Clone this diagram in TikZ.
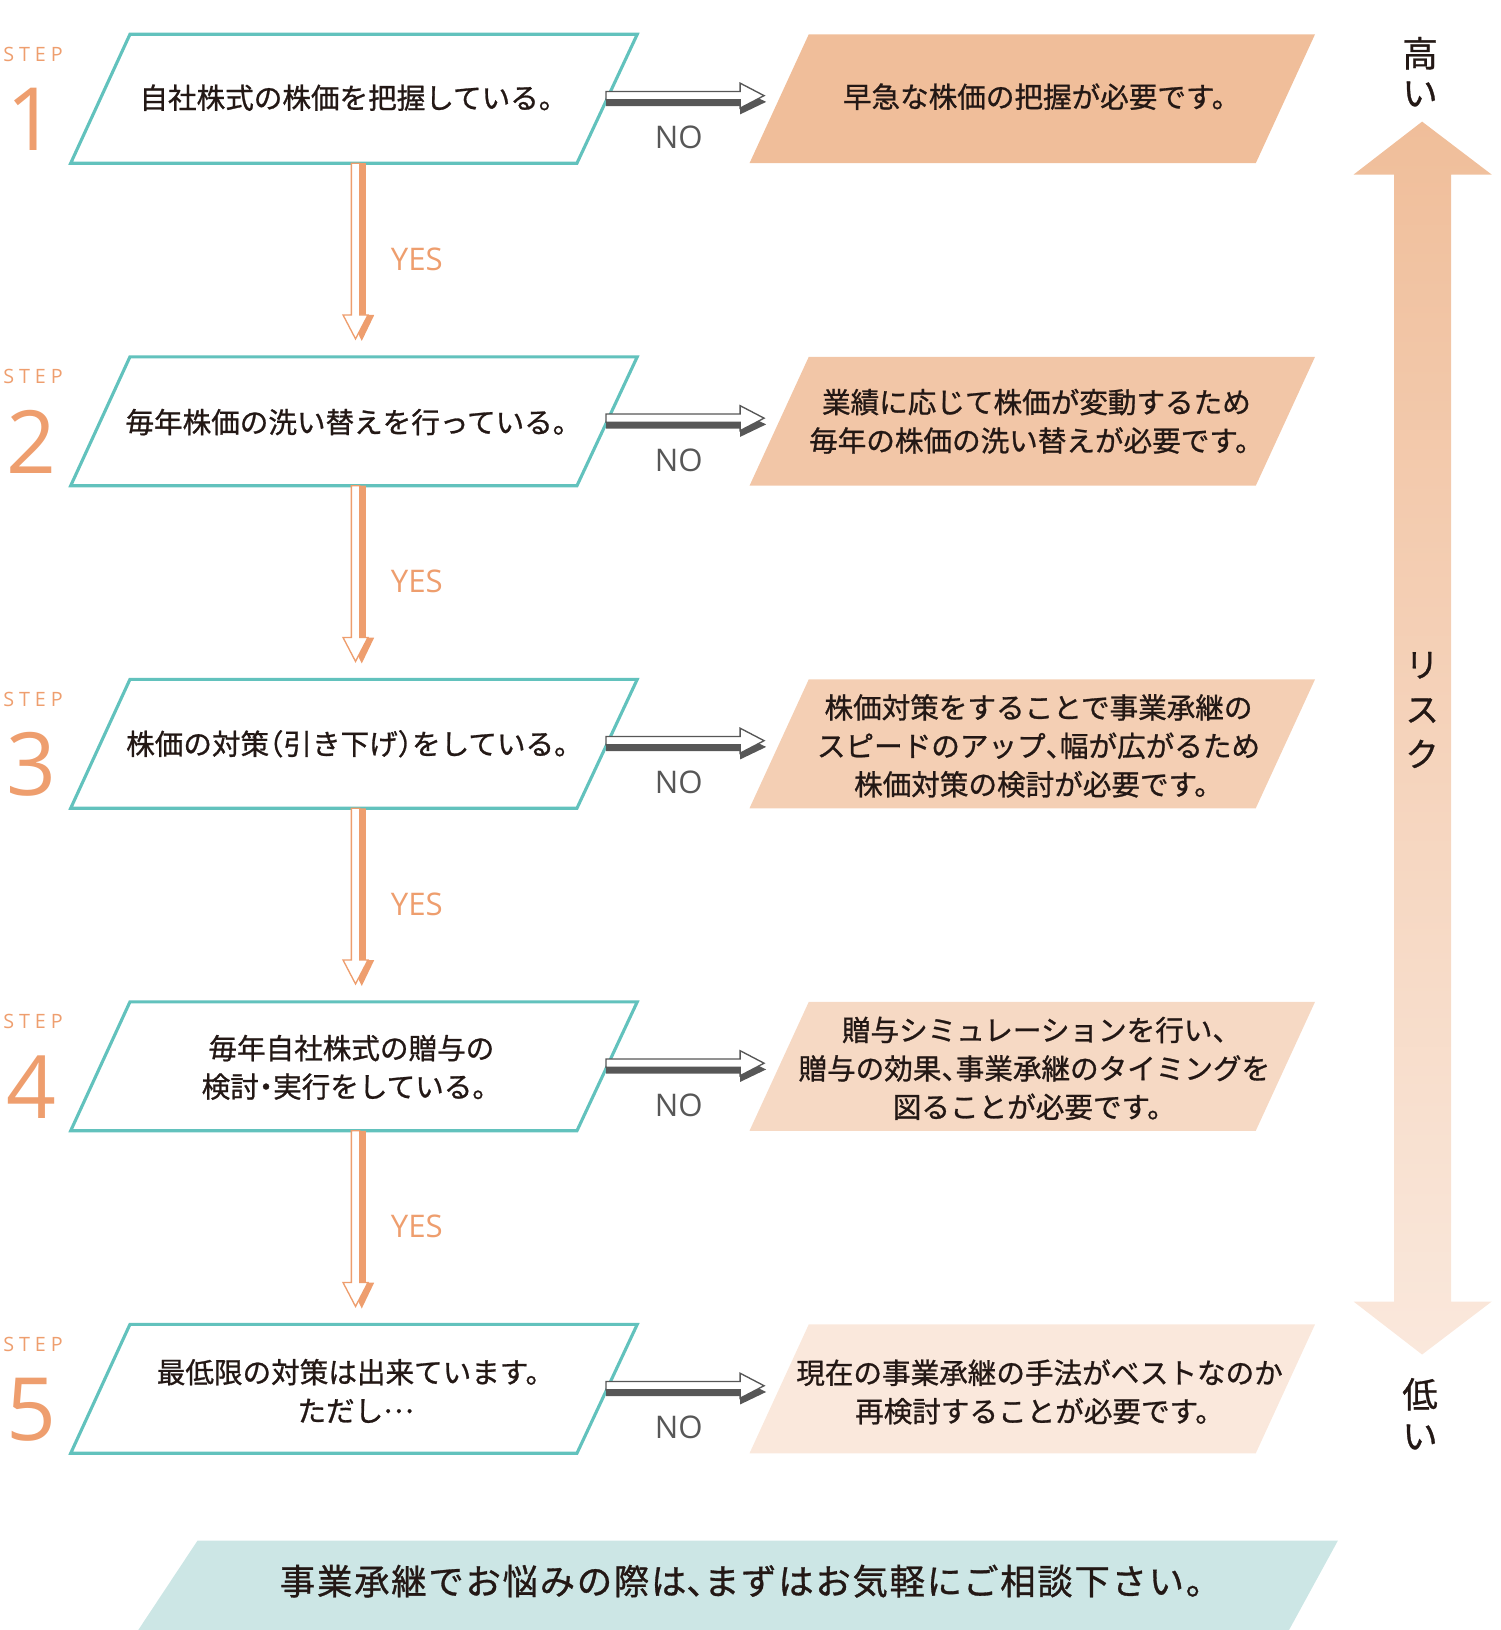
\documentclass[tikz,border=0pt]{standalone}
\usepackage{fontspec}
\setmainfont{Noto Sans CJK JP}[FakeBold=0.9]
\newfontfamily\latfont{Open Sans}
\newfontfamily\stepfont{Open Sans}[LetterSpace=25]
\newcommand\hc{{\addfontfeature{RawFeature=+halt}、}}
\newcommand\hd{{\addfontfeature{RawFeature=+halt}・}}
\newcommand\hpl{{\addfontfeature{RawFeature=+halt}（}}
\newcommand\hpr{{\addfontfeature{RawFeature=+halt}）}}
\newcommand\fel{\raisebox{0.3em}{…}}
\definecolor{tealline}{HTML}{62C2BD}
\definecolor{orng}{HTML}{EE9E6E}
\definecolor{nodark}{HTML}{575757}
\definecolor{txt}{HTML}{231815}
\definecolor{boxa}{HTML}{F0BE9A}
\definecolor{boxb}{HTML}{F2C6A7}
\definecolor{boxc}{HTML}{F4CFB4}
\definecolor{boxd}{HTML}{F6D9C4}
\definecolor{boxe}{HTML}{FAE8DC}
\definecolor{banner}{HTML}{CCE6E5}
\tikzset{
  jtext/.style={text=txt, align=center, inner sep=0pt, font=\fontsize{27.5}{37}\selectfont},
  steplabel/.style={text=orng, anchor=base west, inner sep=0pt, font=\stepfont\fontsize{19}{19}\selectfont},
  stepnum/.style={text=orng, anchor=base, inner sep=0pt, font=\latfont\fontsize{84}{84}\selectfont},
  yeslabel/.style={text=orng, anchor=base, inner sep=0pt, font=\latfont\fontsize{30}{30}\selectfont},
  nolabel/.style={text=nodark, anchor=base, inner sep=0pt, font=\latfont\fontsize{30}{30}\selectfont},
  vlabel/.style={text=txt, align=center, inner sep=0pt},
  noarr/.pic={
    \fill[nodark] (0,-2) -- (129,-2) -- (129,-10) -- (154,2) -- (129,14) -- (129,6) -- (0,6) -- cycle;
    \filldraw[fill=white, draw=nodark, line width=1.3pt] (0,-8) -- (129,-8) -- (129,-16) -- (152,-4) -- (129,8) -- (129,0) -- (0,0) -- cycle;
  },
  yesarr/.pic={
    \fill[orng] (-2,0) -- (-2,146) -- (-10,146) -- (2,171) -- (14,146) -- (6,146) -- (6,0) -- cycle;
    \filldraw[fill=white, draw=orng, line width=1.3pt] (-8,0) -- (-8,146) -- (-16,146) -- (-4,169) -- (8,146) -- (0,146) -- (0,0) -- cycle;
  }
}
\begin{document}
\begin{tikzpicture}[x=1pt,y=-1pt]
\useasboundingbox (0,0) rectangle (1443,1568);

% right-side risk arrow
\shade[top color=boxa, bottom color=boxe]
  (1368,117) -- (1435,168) -- (1396,168) -- (1396,1252) -- (1435,1252) -- (1368,1303)
  -- (1302,1252) -- (1341,1252) -- (1341,168) -- (1302,168) -- cycle;
\node[vlabel, font=\fontsize{34}{38}\selectfont] (high) at (1366,69) {高\\い};
\node[vlabel, font=\fontsize{32}{43}\selectfont] (risk) at (1368,683) {リ\\ス\\ク};
\node[vlabel, font=\fontsize{34}{40}\selectfont] (low) at (1366,1360) {低\\い};

% boxes, arrows and labels per step
\foreach \i/\fc in {0/boxa,1/boxb,2/boxc,3/boxd,4/boxe} {
  \pgfmathsetmacro\t{33+310.25*\i}
  \fill[\fc] (778,\t) -- (1265,\t) -- (1208,\t+124) -- (721,\t+124) -- cycle;
  \draw[tealline, line width=3pt] (125,\t) -- (613,\t) -- (555,\t+124) -- (68,\t+124) -- cycle;
  \pic at (583,\t+63) {noarr};
  \node[nolabel] (no\i) at (653,\t+110) {NO};
  \node[steplabel] (stp\i) at (3,\t+26) {STEP};
  \pgfmathtruncatemacro\n{\i+1}
  \node[stepnum] (num\i) at (30,\t+112) {\n};
}
\foreach \i in {0,1,2,3} {
  \pgfmathsetmacro\t{33+310.25*\i}
  \pic at (346,\t+124) {yesarr};
  \node[yeslabel] (yes\i) at (401,\t+227) {YES};
}

% question texts
\node[jtext] (q1) at (340,94) {自社株式の株価を把握している。};
\node[jtext] (q2) at (340,406) {毎年株価の洗い替えを行っている。};
\node[jtext] (q3) at (341,715.5) {株価の対策\hpl 引き下げ\hpr をしている。};
\node[jtext] (q4) at (338,1026.75) {毎年自社株式の贈与の\\検討\hd 実行をしている。};
\node[jtext] (q5) at (342,1338) {最低限の対策は出来ています。\\ただし\fel};

% answer texts
\node[jtext] (a1) at (1002,93) {早急な株価の把握が必要です。};
\node[jtext] (a2) at (997,405.25) {業績に応じて株価が変動するため\\毎年の株価の洗い替えが必要です。};
\node[jtext] (a3) at (999,717.5) {株価対策をすることで事業承継の\\スピードのアップ\hc 幅が広がるため\\株価対策の検討が必要です。};
\node[jtext] (a4) at (995,1027.75) {贈与シミュレーションを行い\hc\\贈与の効果\hc 事業承継のタイミングを\\図ることが必要です。};
\node[jtext] (a5) at (1000,1339) {現在の事業承継の手法がベストなのか\\再検討することが必要です。};

% bottom banner
\fill[banner] (190,1482) -- (1287,1482) -- (1240,1568) -- (133,1568) -- cycle;
\node[jtext, font=\fontsize{34}{34}\selectfont\addfontfeature{LetterSpace=5}] (msg) at (722,1521) {事業承継でお悩みの際は\hc まずはお気軽にご相談下さい。};
\end{tikzpicture}
\end{document}
